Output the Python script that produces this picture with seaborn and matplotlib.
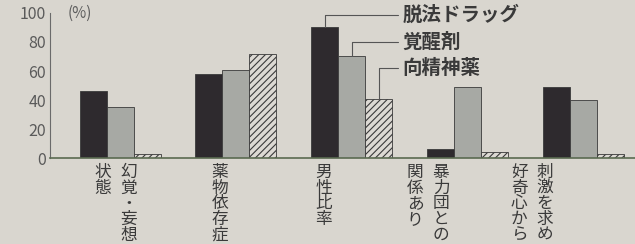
import pandas as pd
import matplotlib.pyplot as plt
import matplotlib.transforms as mtransforms
import seaborn as sns

# values (%)
categories = ["幻覚・妄想状態", "薬物依存症", "男性比率", "暴力団との関係あり", "刺激を求め好奇心から"]
# vertical label columns, in reading order (right column first)
label_columns = [["幻覚・妄想", "状態"], ["薬物依存症"], ["男性比率"],
                 ["暴力団との", "関係あり"], ["刺激を求め", "好奇心から"]]
drugs = ["脱法ドラッグ", "覚醒剤", "向精神薬"]
datsuho = [46, 58, 90, 6, 49]
kakuseizai = [35, 61, 70, 49, 40]
kouseishin = [3, 72, 41, 4, 3]

df = pd.DataFrame({
    "category": categories * 3,
    "drug": [drugs[0]] * 5 + [drugs[1]] * 5 + [drugs[2]] * 5,
    "value": datsuho + kakuseizai + kouseishin,
})

sns.set_style("white")
plt.rcParams['font.family'] = ['Noto Sans CJK JP', 'DejaVu Sans']
plt.rcParams['hatch.linewidth'] = 0.8
plt.rcParams['hatch.color'] = '#3a3a3a'

bg = '#d9d6cf'
fig = plt.figure(figsize=(6.35, 2.44), dpi=100, facecolor=bg)
ax = fig.add_axes([0.079, 0.352, 0.921, 0.595], facecolor=bg)

palette = ['#2e2a2e', '#a7a9a4', '#dcd9d3']
sns.barplot(data=df, x="category", y="value", hue="drug", palette=palette,
            width=0.7, saturation=1, edgecolor='#3a3a3a', linewidth=0.6,
            legend=False, ax=ax)
for bar in ax.containers[2]:
    bar.set_hatch('/////')

ax.set_ylim(0, 100)
ax.set_xlim(-0.605, 4.449)
ax.set_xlabel("")
ax.set_ylabel("")
ax.set_yticks([0, 20, 40, 60, 80, 100])
ax.tick_params(axis='y', direction='in', length=8, width=1, color='#6a6a6a',
               labelsize=11.5, labelcolor='#5a5a5a', pad=3)
ax.set_xticks([-0.5, 0.5, 1.5, 2.5, 3.5])
ax.set_xticklabels([])
ax.tick_params(axis='x', direction='in', length=5, width=0.8, color='#6a6a6a')
for s in ['top', 'right']:
    ax.spines[s].set_visible(False)
ax.spines['left'].set_color('#6a6a6a')
ax.spines['bottom'].set_color('#5a6a50')
ax.spines['bottom'].set_linewidth(1.2)

ax.text(-0.45, 100, "(%)", fontsize=11, color='#5e5e5e', va='center', ha='left')

# vertical category labels
trans = mtransforms.blended_transform_factory(ax.transData, ax.transAxes)
col_gap = 0.225
for i, cols in enumerate(label_columns):
    center = i - 0.04 - 0.1 * i
    n = len(cols)
    for j, col in enumerate(cols):
        x = center + (n - 1) / 2 * col_gap - j * col_gap
        ax.text(x, -0.04, "\n".join(col), transform=trans, ha='center', va='top',
                fontsize=12, color='#3a3a3a', linespacing=0.9, clip_on=False)

# leader-line legend on the 男性比率 group
label_y = [98.6, 80, 62]
for h, name in enumerate(drugs):
    bar = ax.containers[h][2]
    bx = bar.get_x() + bar.get_width() / 2
    top = bar.get_height()
    ax.plot([bx, bx, 2.40], [top, label_y[h], label_y[h]], color='#555555',
            linewidth=0.8, clip_on=False)
    ax.text(2.44, label_y[h], name, fontsize=14, color='#3a3a3a', va='center',
            ha='left', fontweight='bold', clip_on=False)

fig.savefig("out.png", dpi=100, facecolor=bg)
